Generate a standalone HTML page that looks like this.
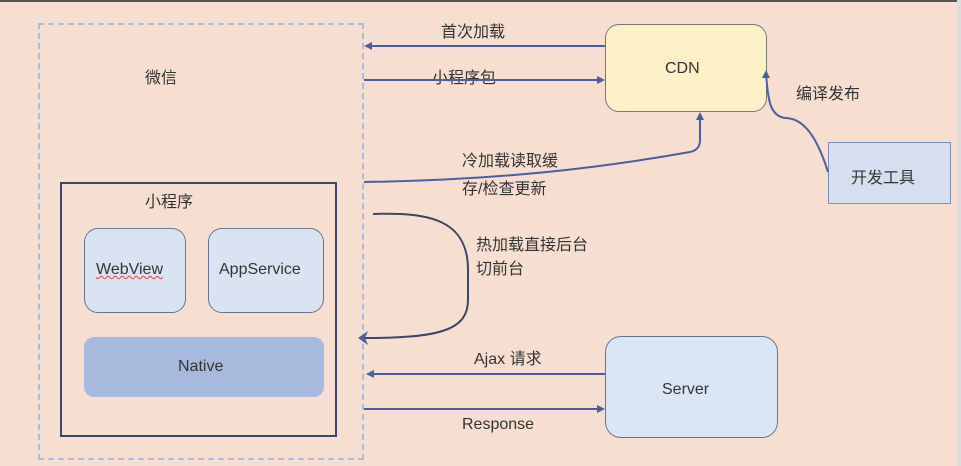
<!DOCTYPE html>
<html><head><meta charset="utf-8"><style>
html,body{margin:0;padding:0}
body{width:961px;height:466px;background:#f6dfd0;position:relative;overflow:hidden;font-family:"Liberation Sans","Noto Sans CJK SC",sans-serif;color:#333}
.a{position:absolute;box-sizing:border-box}
.t{position:absolute;font-size:16px;white-space:nowrap}
</style></head><body>
<div class="a" style="left:0;top:0;width:961px;height:2px;background:#555"></div>
<div class="a" style="left:957px;top:0;width:4px;height:466px;background:#ddd"></div>
<div class="a" style="left:38px;top:23px;width:326px;height:437px;border:2px dashed #a9bedb"></div>
<div class="a" style="left:60px;top:182px;width:277px;height:255px;border:2px solid #3c4668"></div>
<div class="a" style="left:84px;top:228px;width:102px;height:85px;border:1.5px solid #6b7590;border-radius:14px;background:#dae3f1"></div>
<div class="a" style="left:208px;top:228px;width:116px;height:85px;border:1.5px solid #6b7590;border-radius:14px;background:#dae3f1"></div>
<div class="a" style="left:84px;top:337px;width:240px;height:60px;border-radius:10px;background:#a7b9dd"></div>
<div class="a" style="left:605px;top:24px;width:162px;height:88px;border:1.5px solid #777;border-radius:14px;background:#fbf0c8"></div>
<div class="a" style="left:828px;top:142px;width:123px;height:62px;border:1.5px solid #7d8db5;background:#d6dff0"></div>
<div class="a" style="left:605px;top:336px;width:173px;height:102px;border:1.5px solid #6b7590;border-radius:16px;background:#dae6f5"></div>
<div class="t" style="left:145px;top:64px">微信</div>
<div class="t" style="left:145px;top:188px">小程序</div>
<div class="t" style="left:96px;top:261px;text-decoration:underline wavy #d44;text-decoration-thickness:1px">WebView</div>
<div class="t" style="left:219px;top:261px">AppService</div>
<div class="t" style="left:178px;top:358px">Native</div>
<div class="t" style="left:665px;top:60px">CDN</div>
<div class="t" style="left:851px;top:164px">开发工具</div>
<div class="t" style="left:662px;top:381px">Server</div>
<div class="t" style="left:441px;top:18px">首次加载</div>
<div class="t" style="left:432px;top:64px">小程序包</div>
<div class="t" style="left:796px;top:80px">编译发布</div>
<div class="t" style="left:462px;top:148px;line-height:28px">冷加载读取缓<br>存/检查更新</div>
<div class="t" style="left:476px;top:234px;line-height:24px">热加载直接后台<br>切前台</div>
<div class="t" style="left:474px;top:345px">Ajax 请求</div>
<div class="t" style="left:462px;top:416px">Response</div>
<svg class="a" style="left:0;top:0" width="961" height="466">
<g stroke="#4b5f9e" stroke-width="2" fill="none">
<line x1="605" y1="46" x2="368" y2="46"/>
<line x1="364" y1="80" x2="600" y2="80"/>
<path d="M364 182 C500 180 600 168 690 152 Q700 150 700 140 L700 116"/>
<path d="M373 214 C430 212 468 220 468 270 L468 300 C468 330 440 338 365 338" stroke="#3c4668"/>
<path d="M828 172 C815 130 800 118 785 118 C770 116 768 100 766 74"/>
<line x1="605" y1="374" x2="370" y2="374"/>
<line x1="364" y1="409" x2="600" y2="409"/>
</g>
<g fill="#4b5f9e">
<polygon points="364,46 372,42 372,50"/>
<polygon points="605,80 597,76 597,84"/>
<polygon points="700,112 696,120 704,120"/>
<polygon points="766,70 762,78 770,78"/>
<polygon points="358,338 368,331 365,338 368,345"/>
<polygon points="366,374 374,370 374,378"/>
<polygon points="605,409 597,405 597,413"/>
</g>
</svg>
</body></html>
